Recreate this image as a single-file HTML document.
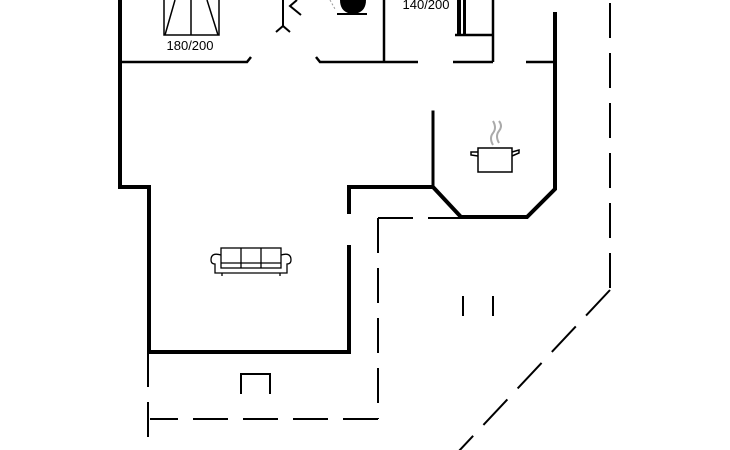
<!DOCTYPE html>
<html><head><style>html,body{margin:0;padding:0;background:#fff}svg{display:block}</style></head>
<body>
<svg width="730" height="450" viewBox="0 0 730 450" xmlns="http://www.w3.org/2000/svg">
<g fill="none" stroke="#000" stroke-width="4" stroke-linecap="square">
<polyline points="120,0 120,187 149,187 149,352 349,352 349,247"/>
<polyline points="349,212 349,187 433,187 461,217 527,217 555,189 555,14"/>
<line x1="433" y1="187" x2="433" y2="112" stroke-width="3"/>
</g>
<g fill="none" stroke="#000" stroke-width="2.5">
<polyline points="120,62 247,62 251,57"/>
<polyline points="316,57 320,62 418,62"/>
<line x1="384" y1="0" x2="384" y2="62"/>
<line x1="453" y1="62" x2="493" y2="62"/>
<polyline points="493,0 493,62"/>
<line x1="526" y1="62" x2="555" y2="62"/>
<polyline points="455,35 493,35"/>
</g>
<rect x="457" y="0" width="4" height="36" fill="#000"/>
<rect x="463" y="0" width="3" height="36" fill="#000"/>
<g fill="none" stroke="#000" stroke-width="2" stroke-dasharray="35,15">
<line x1="378" y1="218" x2="460" y2="218"/>
<line x1="378" y1="218" x2="378" y2="419"/>
<line x1="378" y1="419" x2="150" y2="419"/>
<line x1="148" y1="352" x2="148" y2="450"/>
<line x1="610" y1="3" x2="610" y2="290"/>
<line x1="610" y1="290" x2="458" y2="452"/>
</g>
<g fill="none" stroke="#000" stroke-width="1.5">
<rect x="164" y="-2" width="55" height="37"/>
<line x1="191" y1="0" x2="191" y2="35"/>
<line x1="175" y1="0" x2="165" y2="35"/>
<line x1="207" y1="0" x2="218" y2="35"/>
</g>
<text x="190" y="50" font-family="Liberation Sans, sans-serif" font-size="13" text-anchor="middle">180/200</text>
<text x="426" y="9" font-family="Liberation Sans, sans-serif" font-size="13" text-anchor="middle">140/200</text>
<g fill="none" stroke="#000" stroke-width="2">
<line x1="283" y1="0" x2="283" y2="26"/>
<polyline points="276,32 283,26 290,32"/>
<polyline points="297,0 290,6 301,15"/>
</g>
<path d="M340,0 L366,0 Q366,10 358,13 L348,13 Q340,10 340,0Z" fill="#000"/>
<line x1="337" y1="14" x2="367" y2="14" stroke="#000" stroke-width="2"/>
<line x1="330" y1="0" x2="335" y2="9" stroke="#999" stroke-width="1" stroke-dasharray="2,2"/>
<g fill="none" stroke="#000" stroke-width="1.5">
<rect x="478" y="148" width="34" height="24"/>
<path d="M478,152 L471,152 L471,155 L478,156 M512,152 L519,150 L519,153 L512,156"/>
</g>
<path d="M493,145 q-4,-7 0,-12 q4,-5 0,-12 M499,143 q-4,-7 0,-12 q4,-5 0,-10" fill="none" stroke="#aaa" stroke-width="2"/>
<g fill="none" stroke="#000" stroke-width="1.3">
<rect x="221" y="248" width="60" height="20"/>
<line x1="241" y1="248" x2="241" y2="268"/>
<line x1="261" y1="248" x2="261" y2="268"/>
<line x1="221" y1="263" x2="281" y2="263"/>
<path d="M221,255 q-10,-3 -10,5 q0,4 4,4 v9 h72 v-9 q4,0 4,-4 q0,-8 -10,-5"/>
<line x1="222" y1="273" x2="222" y2="276"/><line x1="280" y1="273" x2="280" y2="276"/>
</g>
<g stroke="#000" stroke-width="2" fill="none">
<line x1="463" y1="296" x2="463" y2="316"/>
<line x1="493" y1="296" x2="493" y2="316"/>
<polyline points="241,394 241,374 270,374 270,394"/>
</g>
</svg>
</body></html>
